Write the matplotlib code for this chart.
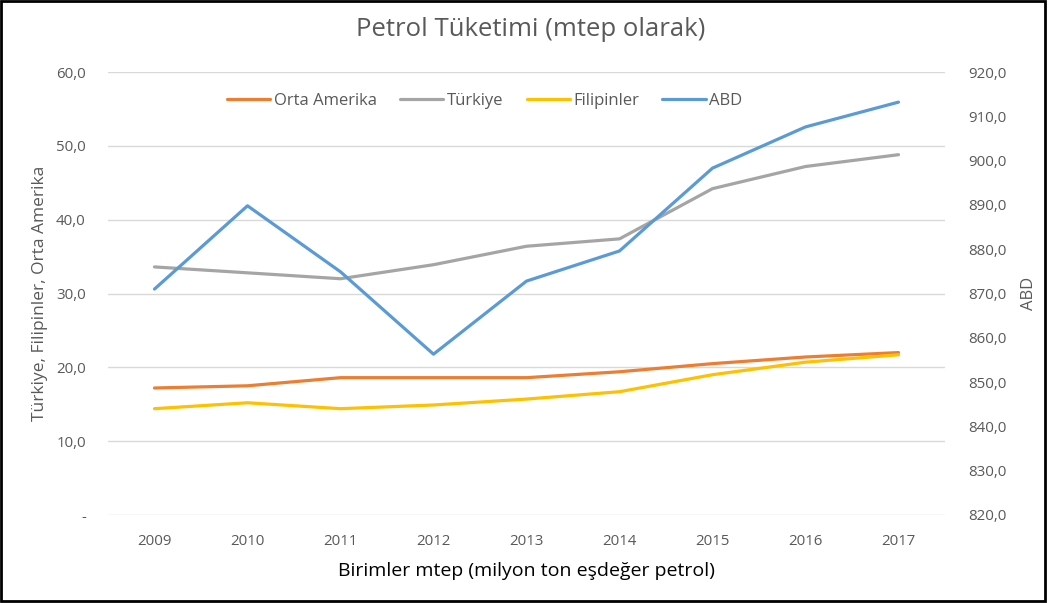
import matplotlib
matplotlib.use("Agg")
import matplotlib.pyplot as plt
from matplotlib.patches import Rectangle

years = [2009, 2010, 2011, 2012, 2013, 2014, 2015, 2016, 2017]
orta_amerika = [17.2, 17.5, 18.6, 18.6, 18.6, 19.4, 20.5, 21.4, 22.0]
turkiye = [33.6, 32.8, 32.0, 33.9, 36.4, 37.4, 44.2, 47.2, 48.8]
filipinler = [14.4, 15.2, 14.4, 14.9, 15.7, 16.7, 19.0, 20.7, 21.7]
abd = [871.0, 889.8, 874.9, 856.3, 872.8, 879.6, 898.3, 907.6, 913.2]

left_ticks = [0, 10, 20, 30, 40, 50, 60]
right_ticks = [820, 830, 840, 850, 860, 870, 880, 890, 900, 910, 920]

plt.rcParams['font.family'] = ['Open Sans', 'DejaVu Sans']
TICK = '#595959'

fig = plt.figure(figsize=(10.48, 6.03), dpi=100)
ax = fig.add_axes([108/1048, 1-515/603, (945-108)/1048, (515-72)/603])
ax2 = ax.twinx()

lw = 2.3
h1, = ax.plot(years, orta_amerika, color='#ED7D31', lw=lw, label='Orta Amerika', solid_capstyle='round', zorder=3)
h2, = ax.plot(years, turkiye, color='#A5A5A5', lw=lw, label='Türkiye', solid_capstyle='round', zorder=3)
h3, = ax.plot(years, filipinler, color='#FFC000', lw=lw, label='Filipinler', solid_capstyle='round', zorder=3)
h4, = ax2.plot(years, abd, color='#5B9BD5', lw=lw, label='ABD', solid_capstyle='round', zorder=3)

ax.set_xlim(2008.5, 2017.5)
ax.set_ylim(0, 60)
ax2.set_ylim(820, 920)
ax.set_yticks(left_ticks)
ax.set_yticklabels(['-' if v == 0 else f"{v:.1f}".replace('.', ',') for v in left_ticks])
ax2.set_yticks(right_ticks)
ax2.set_yticklabels([f"{v:.1f}".replace('.', ',') for v in right_ticks])
ax.set_xticks(years)
ax.set_xticklabels([str(y) for y in years])

for a in (ax, ax2):
    for s in a.spines.values():
        s.set_visible(False)
    a.tick_params(length=0, colors=TICK, labelsize=10.8)
ax.tick_params(axis='y', pad=16)
ax2.tick_params(axis='y', pad=17)
ax.tick_params(axis='x', pad=14)

ax.yaxis.grid(True, color='#D9D9D9', lw=1)
ax.set_axisbelow(True)

ax.set_ylabel('Türkiye, Filipinler, Orta Amerika', color=TICK, fontsize=12.5, labelpad=6)
ax2.set_ylabel('ABD', color=TICK, fontsize=12, labelpad=10)
ax.set_xlabel('Birimler mtep (milyon ton eşdeğer petrol)', color='#000000', fontsize=14, labelpad=9)

fig.text(531/1048, 1-30/603, 'Petrol Tüketimi (mtep olarak)', ha='center', va='center', fontsize=18.5, color='#595959')

leg = ax.legend(handles=[h1, h2, h3, h4], loc='center', bbox_to_anchor=(0.45, 0.935), ncol=4,
                frameon=False, fontsize=12, handlelength=2.6, columnspacing=1.4, handletextpad=0.2)
for t in leg.get_texts():
    t.set_color(TICK)

fig.patches.append(Rectangle((0.001, 0.004), 0.996, 0.994, transform=fig.transFigure,
                             fill=False, edgecolor='black', lw=2))

fig.savefig('out.png', dpi=100)
